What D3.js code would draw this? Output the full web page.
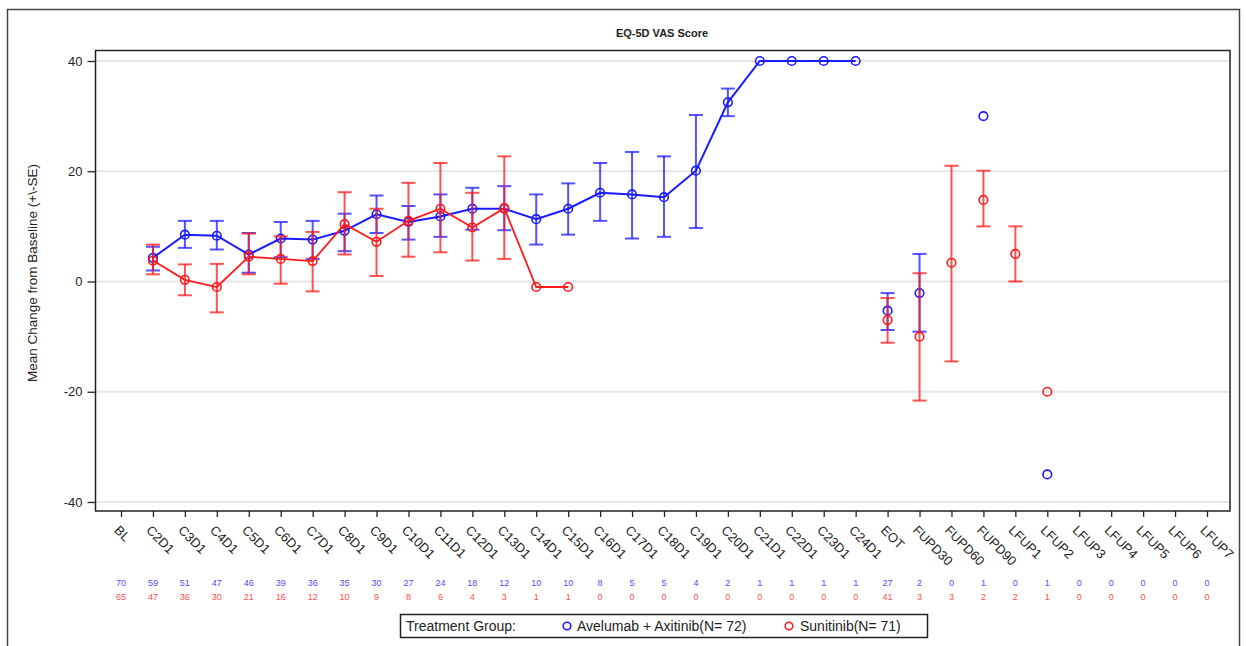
<!DOCTYPE html>
<html>
<head>
<meta charset="utf-8">
<script src="https://cdn.jsdelivr.net/npm/d3@7"></script>
<style>
  html, body { margin: 0; padding: 0; background: #fff; }
  svg { display: block; font-family: "Liberation Sans", Arial, sans-serif; }
</style>
</head>
<body>
<svg id="chart" width="1246" height="646"></svg>
<script>
const categories = ["BL","C2D1","C3D1","C4D1","C5D1","C6D1","C7D1","C8D1","C9D1","C10D1","C11D1","C12D1","C13D1","C14D1","C15D1","C16D1","C17D1","C18D1","C19D1","C20D1","C21D1","C22D1","C23D1","C24D1","EOT","FUPD30","FUPD60","FUPD90","LFUP1","LFUP2","LFUP3","LFUP4","LFUP5","LFUP6","LFUP7"];

const aveMean = [null,4.3,8.5,8.3,4.9,7.8,7.6,9.2,12.2,10.8,11.8,13.2,13.2,11.3,13.2,16.1,15.8,15.3,20.1,32.5,40,40,40,40,-5.3,-2.1,null,30,null,-35,null,null,null,null,null];
const aveLo   = [null,2.0,6.1,5.8,1.6,4.4,4.1,5.5,8.8,7.6,8.1,9.4,9.3,6.7,8.5,11.0,7.8,8.1,9.7,30.0,null,null,null,null,-8.8,-9.1,null,null,null,null,null,null,null,null,null];
const aveHi   = [null,6.3,11.0,11.0,8.8,10.8,11.0,12.3,15.6,13.7,15.8,17.0,17.3,15.8,17.8,21.5,23.5,22.7,30.2,35.0,null,null,null,null,-2.1,5.0,null,null,null,null,null,null,null,null,null];

const sunMean = [null,3.8,0.3,-1.0,4.5,4.1,3.7,10.4,7.2,11.0,13.2,9.8,13.3,-1.0,-1.0,null,null,null,null,null,null,null,null,null,-7.0,-10.0,3.4,14.8,5.0,-20,null,null,null,null,null];
const sunLo   = [null,1.3,-2.5,-5.6,1.3,-0.4,-1.8,4.9,1.0,4.5,5.3,3.8,4.1,null,null,null,null,null,null,null,null,null,null,null,-11.1,-21.6,-14.5,10.0,0.0,null,null,null,null,null,null];
const sunHi   = [null,6.7,3.1,3.2,8.7,8.2,9.0,16.2,13.2,17.9,21.5,16.1,22.7,null,null,null,null,null,null,null,null,null,null,null,-3.0,1.5,21.0,20.1,10.0,null,null,null,null,null,null];

const aveN = [70,59,51,47,46,39,36,35,30,27,24,18,12,10,10,8,5,5,4,2,1,1,1,1,27,2,0,1,0,1,0,0,0,0,0];
const sunN = [65,47,36,30,21,16,12,10,9,8,6,4,3,1,1,0,0,0,0,0,0,0,0,0,41,3,3,2,2,1,0,0,0,0,0];

const yTicks = [-40,-20,0,20,40];
const titleText = "EQ-5D VAS Score";
const yLabel = "Mean Change from Baseline (+\\-SE)";
const legendTitle = "Treatment Group:";
const seriesNames = ["Avelumab + Axitinib(N= 72)", "Sunitinib(N= 71)"];

const svg = d3.select("#chart");
const BLUE = "#1a1aff", RED = "#ff1a1a";

// outer frame
svg.append("rect").attr("x",7.5).attr("y",9.5).attr("width",1232).attr("height",700)
  .attr("fill","none").attr("stroke","#444").attr("stroke-width",1.5);

const plot = {left:95.5, top:50.5, right:1230, bottom:511};
const x = d3.scalePoint().domain(categories).range([121, 1207]);
const y = d3.scaleLinear().domain([-40, 40]).range([502, 61]);

// gridlines
svg.append("g").selectAll("line").data(yTicks).join("line")
  .attr("x1", plot.left).attr("x2", plot.right)
  .attr("y1", d => y(d)).attr("y2", d => y(d))
  .attr("stroke", "#e6e6e6").attr("stroke-width", 2);

// frame of plot
svg.append("rect").attr("x",plot.left).attr("y",plot.top)
  .attr("width",plot.right-plot.left).attr("height",plot.bottom-plot.top)
  .attr("fill","none").attr("stroke","#222").attr("stroke-width",1.5);

// y axis
const yAxis = d3.axisLeft(y).tickValues(yTicks).tickFormat(d => String(d)).tickSize(8).tickPadding(5);
const gy = svg.append("g").attr("transform", `translate(${plot.left},0)`).call(yAxis);
gy.select(".domain").remove();
gy.selectAll("line").attr("stroke","#222").attr("stroke-width",1.3);
gy.selectAll("text").attr("font-size",13).attr("fill","#222").attr("font-family","Liberation Sans, Arial, sans-serif");

// x axis
const xAxis = d3.axisBottom(x).tickSize(6).tickPadding(0);
const gx = svg.append("g").attr("transform", `translate(0,${plot.bottom})`).call(xAxis);
gx.select(".domain").remove();
gx.selectAll("line").attr("stroke","#222").attr("stroke-width",1.3);
gx.selectAll("text")
  .attr("font-size",13).attr("fill","#222").attr("font-family","Liberation Sans, Arial, sans-serif")
  .attr("text-anchor","start").attr("dy",null).attr("y",0)
  .attr("transform","translate(-8,20) rotate(45)");

// title
svg.append("text").attr("x", 662).attr("y", 37).attr("text-anchor","middle")
  .attr("font-size",11).attr("font-weight","bold").attr("fill","#222").text(titleText);

// y label
svg.append("text").attr("transform","translate(37,273) rotate(-90)").attr("text-anchor","middle")
  .attr("font-size",13.5).attr("fill","#222").text(yLabel);

function drawSeries(mean, lo, hi, color, lineW) {
  const g = svg.append("g");
  const pts = categories.map((c,i) => ({c, i, m: mean[i], lo: lo[i], hi: hi[i]}));
  const line = d3.line()
    .defined(d => d.m !== null && /^C\d+D1$/.test(d.c))
    .x(d => x(d.c)).y(d => y(d.m));
  g.append("path").datum(pts).attr("d", line)
    .attr("fill","none").attr("stroke",color).attr("stroke-width",lineW);
  const eb = pts.filter(d => d.lo !== null && d.hi !== null);
  const ge = g.append("g").attr("stroke",color).attr("stroke-width",2).attr("stroke-opacity",0.75);
  ge.selectAll(".v").data(eb).join("line")
    .attr("x1", d => x(d.c)).attr("x2", d => x(d.c))
    .attr("y1", d => y(d.lo)).attr("y2", d => y(d.hi));
  ge.selectAll(".t").data(eb).join("line")
    .attr("x1", d => x(d.c)-7).attr("x2", d => x(d.c)+7)
    .attr("y1", d => y(d.hi)).attr("y2", d => y(d.hi));
  ge.selectAll(".b").data(eb).join("line")
    .attr("x1", d => x(d.c)-7).attr("x2", d => x(d.c)+7)
    .attr("y1", d => y(d.lo)).attr("y2", d => y(d.lo));
  g.selectAll("circle").data(pts.filter(d => d.m !== null)).join("circle")
    .attr("cx", d => x(d.c)).attr("cy", d => y(d.m)).attr("r", 4.3)
    .attr("fill","none").attr("stroke",color).attr("stroke-width",1.6);
}
drawSeries(aveMean, aveLo, aveHi, BLUE, 2);
drawSeries(sunMean, sunLo, sunHi, RED, 1.8);

// counts
svg.append("g").selectAll("text").data(aveN).join("text")
  .attr("x", (d,i) => x(categories[i])).attr("y", 586).attr("text-anchor","middle")
  .attr("font-size",9).attr("fill","#4d4dff").text(d => d);
svg.append("g").selectAll("text").data(sunN).join("text")
  .attr("x", (d,i) => x(categories[i])).attr("y", 600).attr("text-anchor","middle")
  .attr("font-size",9).attr("fill","#ff4d4d").text(d => d);

// legend
const lg = svg.append("g");
lg.append("rect").attr("x",400.5).attr("y",614.5).attr("width",527).attr("height",23)
  .attr("fill","#fff").attr("stroke","#222").attr("stroke-width",1.5);
lg.append("text").attr("x",406).attr("y",631).attr("font-size",14).attr("fill","#222").text(legendTitle);
lg.append("circle").attr("cx",567).attr("cy",626).attr("r",3.8).attr("fill","none").attr("stroke",BLUE).attr("stroke-width",1.6);
lg.append("text").attr("x",577).attr("y",631).attr("font-size",14).attr("fill","#222").text(seriesNames[0]);
lg.append("circle").attr("cx",789).attr("cy",626).attr("r",3.8).attr("fill","none").attr("stroke",RED).attr("stroke-width",1.6);
lg.append("text").attr("x",800).attr("y",631).attr("font-size",14).attr("fill","#222").text(seriesNames[1]);
</script>
</body>
</html>
